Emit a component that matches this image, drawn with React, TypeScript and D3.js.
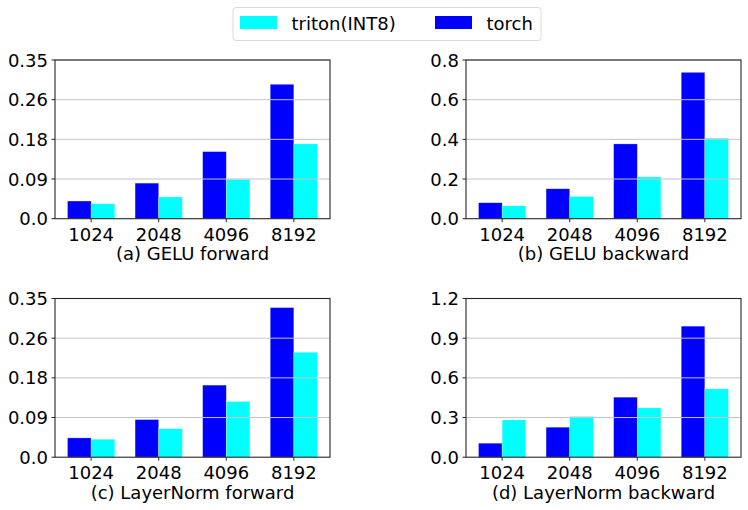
import { useEffect, useRef } from "react";
import * as d3 from "d3";

const categories = ["1024", "2048", "4096", "8192"];

const geluFwdTorch = [0.039, 0.0785, 0.148, 0.2965];
const geluFwdTriton = [0.033, 0.048, 0.087, 0.165];
const geluBwdTorch = [0.0805, 0.151, 0.377, 0.738];
const geluBwdTriton = [0.065, 0.112, 0.211, 0.406];
const lnFwdTorch = [0.0426, 0.083, 0.159, 0.33];
const lnFwdTriton = [0.0397, 0.063, 0.123, 0.2315];
const lnBwdTorch = [0.106, 0.227, 0.454, 0.991];
const lnBwdTriton = [0.282, 0.308, 0.373, 0.517];

const yMaxes = [0.35, 0.8, 0.35, 1.2];
const yTickLabels = [
  ["0.0", "0.09", "0.18", "0.26", "0.35"],
  ["0.0", "0.2", "0.4", "0.6", "0.8"],
  ["0.0", "0.09", "0.18", "0.26", "0.35"],
  ["0.0", "0.3", "0.6", "0.9", "1.2"],
];
const titles = [
  "(a) GELU forward",
  "(b) GELU backward",
  "(c) LayerNorm forward",
  "(d) LayerNorm backward",
];
const seriesNames = ["triton(INT8)", "torch"];

const TORCH = "#0000ff";
const TRITON = "#00ffff";
const FONT = "DejaVu Sans, sans-serif";

export default function App() {
  const svgRef = useRef<SVGSVGElement | null>(null);

  useEffect(() => {
    document.body.style.margin = "0";
    if (!svgRef.current) return;
    const svg = d3.select(svgRef.current);
    svg.selectAll("*").remove();

    const width = 748;
    const height = 510;
    svg.attr("width", width).attr("height", height);

    const panels = [
      { torch: geluFwdTorch, triton: geluFwdTriton, x0: 55, y0: 60 },
      { torch: geluBwdTorch, triton: geluBwdTriton, x0: 466, y0: 60 },
      { torch: lnFwdTorch, triton: lnFwdTriton, x0: 55, y0: 298.5 },
      { torch: lnBwdTorch, triton: lnBwdTriton, x0: 466, y0: 298.5 },
    ];
    const pw = 275;
    const ph = 158.7;
    const barW = 0.35;

    panels.forEach((p, i) => {
      const g = svg.append("g");
      const x = d3
        .scaleLinear()
        .domain([-0.535, categories.length - 1 + 0.535])
        .range([p.x0, p.x0 + pw]);
      const y = d3
        .scaleLinear()
        .domain([0, yMaxes[i]])
        .range([p.y0 + ph, p.y0]);
      const ticks = d3.range(5).map((k) => (yMaxes[i] * k) / 4);

      // bars
      const drawBars = (vals: number[], offset: number, color: string) => {
        g.selectAll(null)
          .data(vals)
          .enter()
          .append("rect")
          .attr("x", (_, j) => x(j + offset))
          .attr("y", (d) => y(d))
          .attr("width", x(barW) - x(0))
          .attr("height", (d) => y(0) - y(d))
          .attr("fill", color)
          .attr("stroke", "#ffffff")
          .attr("stroke-opacity", 0.5)
          .attr("stroke-width", 0.6);
      };
      drawBars(p.torch, -barW, TORCH);
      drawBars(p.triton, 0, TRITON);

      // grid (drawn over bars)
      g.selectAll(null)
        .data(ticks.slice(1))
        .enter()
        .append("line")
        .attr("x1", p.x0)
        .attr("x2", p.x0 + pw)
        .attr("y1", (d) => y(d))
        .attr("y2", (d) => y(d))
        .attr("stroke", "#c4c4c4")
        .attr("stroke-width", 1);

      // frame
      g.append("rect")
        .attr("x", p.x0)
        .attr("y", p.y0)
        .attr("width", pw)
        .attr("height", ph)
        .attr("fill", "none")
        .attr("stroke", "#262626")
        .attr("stroke-width", 1.1);

      // y ticks
      ticks.forEach((t, k) => {
        g.append("line")
          .attr("x1", p.x0 - 3.5)
          .attr("x2", p.x0)
          .attr("y1", y(t))
          .attr("y2", y(t))
          .attr("stroke", "#262626");
        g.append("text")
          .attr("x", p.x0 - 7)
          .attr("y", y(t) + 6.5)
          .attr("text-anchor", "end")
          .attr("font-family", FONT)
          .attr("font-size", 18)
          .attr("fill", "#000")
          .text(yTickLabels[i][k]);
      });

      // x ticks
      categories.forEach((c, j) => {
        g.append("line")
          .attr("x1", x(j))
          .attr("x2", x(j))
          .attr("y1", y(0))
          .attr("y2", y(0) + 3.5)
          .attr("stroke", "#262626");
        g.append("text")
          .attr("x", x(j))
          .attr("y", y(0) + 22)
          .attr("text-anchor", "middle")
          .attr("font-family", FONT)
          .attr("font-size", 18)
          .attr("fill", "#000")
          .text(c);
      });

      g.append("text")
        .attr("x", p.x0 + pw / 2)
        .attr("y", y(0) + 41.5)
        .attr("text-anchor", "middle")
        .attr("font-family", FONT)
        .attr("font-size", 18)
        .attr("fill", "#000")
        .text(titles[i]);
    });

    // legend
    const lg = svg.append("g");
    lg.append("rect")
      .attr("x", 233)
      .attr("y", 7.5)
      .attr("width", 308)
      .attr("height", 33)
      .attr("rx", 3)
      .attr("fill", "#fff")
      .attr("stroke", "#d9d9d9")
      .attr("stroke-width", 1);
    const legendItems = [
      { name: seriesNames[0], color: TRITON, sx: 240, tx: 291.5 },
      { name: seriesNames[1], color: TORCH, sx: 435, tx: 486.5 },
    ];
    legendItems.forEach((it) => {
      lg.append("rect")
        .attr("x", it.sx)
        .attr("y", 16)
        .attr("width", 37)
        .attr("height", 13)
        .attr("fill", it.color);
      lg.append("text")
        .attr("x", it.tx)
        .attr("y", 29.5)
        .attr("font-family", FONT)
        .attr("font-size", 18)
        .attr("fill", "#000")
        .text(it.name);
    });
  }, []);

  return <svg ref={svgRef} style={{ display: "block" }}></svg>;
}
